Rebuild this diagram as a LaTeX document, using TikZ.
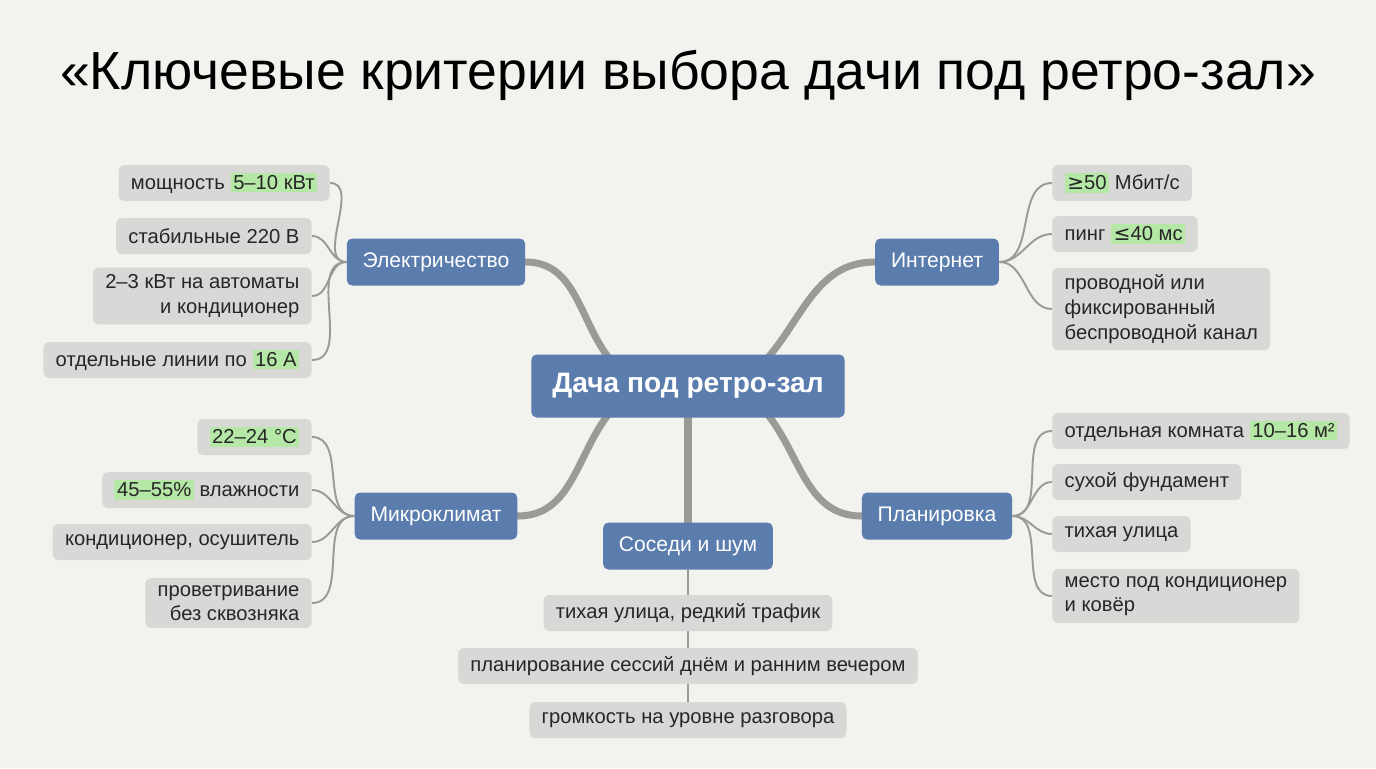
\documentclass[tikz,border=0pt]{standalone}
\usepackage{fontspec}
\setmainfont{Liberation Sans}
\newfontfamily\symfont{DejaVu Sans}
\usetikzlibrary{positioning}
\pgfdeclarelayer{background}
\pgfsetlayers{background,main}
\definecolor{bgcol}{HTML}{F2F2EE}
\definecolor{bluebox}{HTML}{5B7DAE}
\definecolor{leafgray}{HTML}{D8D8D6}
\definecolor{hlgreen}{HTML}{B5E8A6}
\definecolor{linegray}{HTML}{9A9A98}
\definecolor{textcol}{HTML}{262626}
\newcommand{\hl}[1]{{\setlength{\fboxsep}{1.5pt}\colorbox{hlgreen}{#1}}}
\tikzset{
  hub/.style={fill=bluebox, text=white, rounded corners=3pt, inner xsep=9pt,
    minimum height=0.94cm, font=\fontsize{12}{14}\selectfont},
  center/.style={hub, font=\bfseries\fontsize{16}{18}\selectfont, minimum height=1.26cm, inner xsep=12pt},
  leaf/.style={fill=leafgray, text=textcol, rounded corners=3pt, inner xsep=7pt, inner ysep=4pt,
    minimum height=0.72cm, font=\fontsize{11.5}{14}\selectfont},
  branch/.style={draw=linegray, line width=4pt, line cap=round},
  twig/.style={draw=linegray, line width=1.1pt}
}
\begin{document}
\begin{tikzpicture}[x=0.02cm, y=-0.02cm]
  \node[font=\fontsize{30.5}{34}\selectfont, text=black] (title) at (688,75)
    {«Ключевые критерии выбора дачи под ретро-зал»};

  % hubs
  \node[center] (c) at (688,386) {Дача под ретро-зал};
  \node[hub] (el) at (436,262) {Электричество};
  \node[hub] (in) at (937,262) {Интернет};
  \node[hub] (mk) at (436,516) {Микроклимат};
  \node[hub] (pl) at (937,516) {Планировка};
  \node[hub] (ss) at (688,546) {Соседи и шум};

  % thick branches
  \begin{pgfonlayer}{background}
  \fill[bgcol] (0,0) rectangle (1376,768);
  \draw[branch] ([xshift=-40pt,yshift=-8pt]c.north) to[out=135,in=0] (el.east);
  \draw[branch] ([xshift=40pt,yshift=-8pt]c.north) to[out=45,in=180] (in.west);
  \draw[branch] ([xshift=-40pt,yshift=8pt]c.south) to[out=225,in=0] (mk.east);
  \draw[branch] ([xshift=40pt,yshift=8pt]c.south) to[out=-45,in=180] (pl.west);
  \draw[twig] (ss.south) -- (688,720);
  \draw[branch] (c.south) -- (ss.north);
  \end{pgfonlayer}

  % Электричество
  \node[leaf, anchor=east] (e1) at (330,183) {мощность \hl{5–10 кВт}};
  \node[leaf, anchor=east] (e2) at (312,236) {стабильные 220 В};
  \node[leaf, anchor=east, align=right] (e3) at (312,296) {2–3 кВт на автоматы\\и кондиционер};
  \node[leaf, anchor=east] (e4) at (312,360) {отдельные линии по \hl{16 А}};
  \foreach \l in {e1,e2,e3,e4} \draw[twig] (el.west) to[out=180,in=0] (\l.east);

  % Микроклимат
  \node[leaf, anchor=east] (m1) at (312,437) {\hl{22–24 °C}};
  \node[leaf, anchor=east] (m2) at (312,490) {\hl{45–55\%} влажности};
  \node[leaf, anchor=east] (m3) at (312,542) {кондиционер, осушитель};
  \node[leaf, anchor=east, align=right] (m4) at (312,603) {проветривание\\без сквозняка};
  \foreach \l in {m1,m2,m3,m4} \draw[twig] (mk.west) to[out=180,in=0] (\l.east);

  % Интернет
  \node[leaf, anchor=west] (i1) at (1052,183) {\hl{{\symfont≥}50} Мбит/с};
  \node[leaf, anchor=west] (i2) at (1052,234) {пинг \hl{{\symfont≤}40 мс}};
  \node[leaf, anchor=west, align=left] (i3) at (1052,309) {проводной или\\фиксированный\\беспроводной канал};
  \foreach \l in {i1,i2,i3} \draw[twig] (in.east) to[out=0,in=180] (\l.west);

  % Планировка
  \node[leaf, anchor=west] (p1) at (1052,431) {отдельная комната \hl{10–16 м²}};
  \node[leaf, anchor=west] (p2) at (1052,482) {сухой фундамент};
  \node[leaf, anchor=west] (p3) at (1052,534) {тихая улица};
  \node[leaf, anchor=west, align=left] (p4) at (1052,596) {место под кондиционер\\и ковёр};
  \foreach \l in {p1,p2,p3,p4} \draw[twig] (pl.east) to[out=0,in=180] (\l.west);

  % Соседи и шум
  \node[leaf] (s1) at (688,613) {тихая улица, редкий трафик};
  \node[leaf] (s2) at (688,666) {планирование сессий днём и ранним вечером};
  \node[leaf] (s3) at (688,720) {громкость на уровне разговора};
\end{tikzpicture}
\end{document}
